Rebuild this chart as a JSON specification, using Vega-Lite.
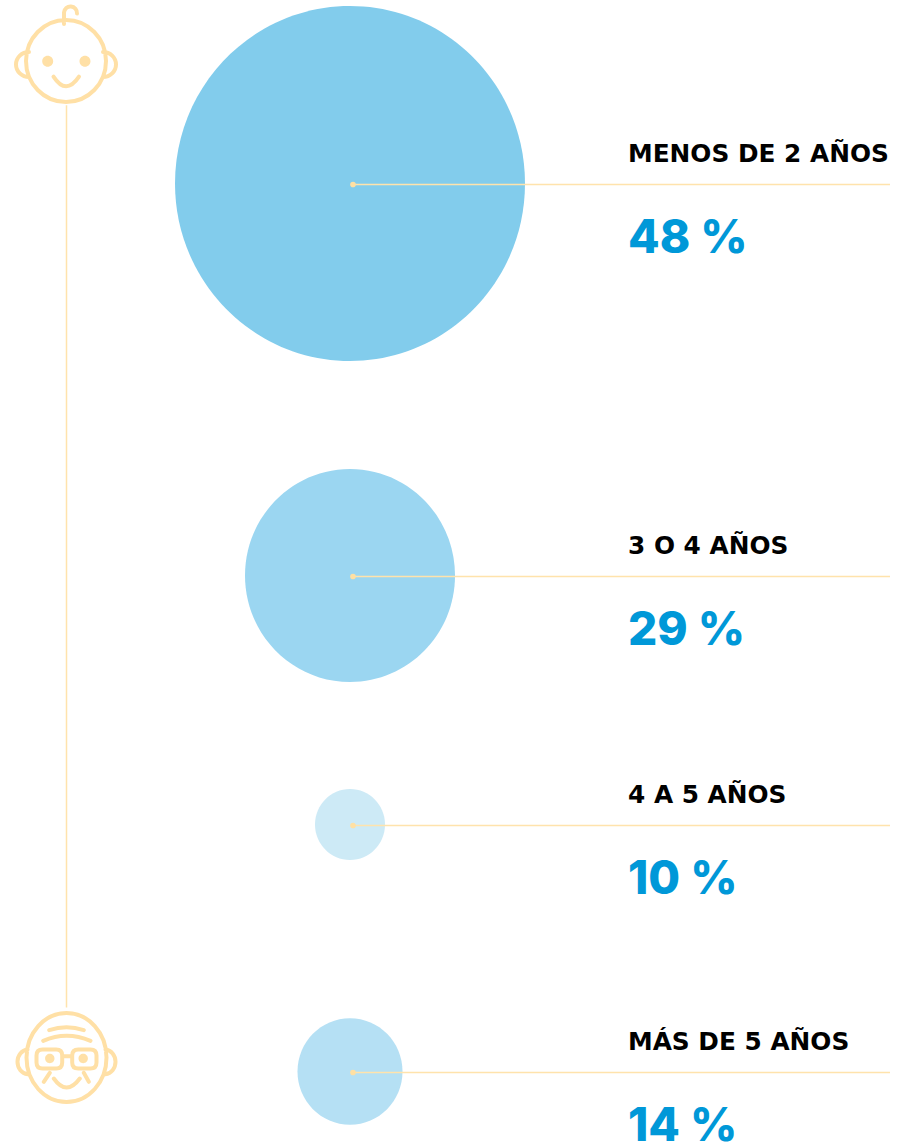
{"$schema":"https://vega.github.io/schema/vega-lite/v6.json","width":904,"height":1145,"padding":0,"autosize":{"type":"none"},"background":"white","config":{"view":{"stroke":null}},"data":{"values":[{"rango":"MENOS DE 2 AÑOS","porcentaje":48,"edad":1,"etiqueta":"48 %"},{"rango":"3 O 4 AÑOS","porcentaje":29,"edad":3.5,"etiqueta":"29 %"},{"rango":"4 A 5 AÑOS","porcentaje":10,"edad":4.5,"etiqueta":"10 %"},{"rango":"MÁS DE 5 AÑOS","porcentaje":14,"edad":6,"etiqueta":"14 %"}]},"layer":[{"mark":{"type":"point","filled":true,"opacity":1,"yOffset":-1,"shape":"M-1,0A1,1.014 0 1 1 1,0A1,1.014 0 1 1 -1,0Z"},"encoding":{"x":{"datum":350,"type":"quantitative","scale":{"domain":[0,904],"nice":false,"zero":false},"axis":null},"y":{"field":"edad","type":"quantitative","scale":{"domain":[0,1,3.5,4.5,6],"range":[61,184.5,576.5,825.5,1072.5],"nice":false,"zero":false},"axis":null},"size":{"field":"porcentaje","type":"quantitative","legend":null,"scale":{"type":"linear","domain":[10,14,29,48],"range":[4900,11025,44100,122500],"zero":false,"nice":false}},"color":{"field":"rango","type":"nominal","legend":null,"scale":{"domain":["MENOS DE 2 AÑOS","3 O 4 AÑOS","4 A 5 AÑOS","MÁS DE 5 AÑOS"],"range":["#82CCEC","#9BD6F1","#CDEAF6","#B5E0F4"]}}}},{"mark":{"type":"rule","color":"#FFE3AC","strokeWidth":1.5},"encoding":{"x":{"datum":353,"type":"quantitative"},"x2":{"datum":890},"y":{"field":"edad","type":"quantitative"}}},{"mark":{"type":"circle","color":"#FFE0A3","opacity":1,"size":32},"encoding":{"x":{"datum":353,"type":"quantitative"},"y":{"field":"edad","type":"quantitative"}}},{"mark":{"type":"text","align":"left","baseline":"middle","font":"DejaVu Sans","fontWeight":700,"fontSize":24.8,"color":"#000000","dy":-30},"encoding":{"x":{"datum":628,"type":"quantitative"},"y":{"field":"edad","type":"quantitative"},"text":{"field":"rango"}}},{"mark":{"type":"text","align":"left","baseline":"middle","font":"Inter","fontWeight":800,"fontSize":46,"color":"#0098D8","dy":54.5},"encoding":{"x":{"datum":628,"type":"quantitative"},"y":{"field":"edad","type":"quantitative"},"text":{"field":"etiqueta"}}},{"data":{"values":[{"tramo":"línea"}]},"mark":{"type":"rule","color":"#FFE3AC","strokeWidth":1.5},"encoding":{"x":{"datum":66.5,"type":"quantitative"},"y":{"datum":0.358,"type":"quantitative"},"y2":{"datum":5.605}}},{"data":{"values":[{"icono":"bebé","edad":0}]},"mark":{"type":"point","filled":false,"opacity":1,"color":"#FFE0A6","strokeWidth":4,"strokeCap":"round","size":4,"shape":"M-40,0A40,41 0 1 1 40,0A40,41 0 1 1 -40,0ZM-2,-37L-2,-48.5A6.5,6.5 0 1 1 11,-47.5M-37,-9A13,12.5 0 0 0 -37,16M37,-9A13,12.5 0 0 1 37,16M-12.5,15.7Q0,35 13,15.7"},"encoding":{"x":{"datum":66,"type":"quantitative"},"y":{"field":"edad","type":"quantitative"}}},{"data":{"values":[{"icono":"bebé","edad":0}]},"mark":{"type":"point","filled":true,"opacity":1,"color":"#FFE0A6","size":4,"shape":"M-23.8,0.3A5.5,5.5 0 1 1 -12.8,0.3A5.5,5.5 0 1 1 -23.8,0.3ZM13.5,0.3A5.5,5.5 0 1 1 24.5,0.3A5.5,5.5 0 1 1 13.5,0.3Z"},"encoding":{"x":{"datum":66,"type":"quantitative"},"y":{"field":"edad","type":"quantitative"}}},{"data":{"values":[{"icono":"mayor","edad":5.909}]},"mark":{"type":"point","filled":false,"opacity":1,"color":"#FFE0A6","strokeWidth":4,"strokeCap":"round","size":4,"shape":"M-40,0A40,44.5 0 1 1 40,0A40,44.5 0 1 1 -40,0ZM-39,-8A11,12.4 0 0 0 -39,16.7M39,-8A11,12.4 0 0 1 39,16.7M-17.3,-27.3Q0,-33 17.3,-27.3M-23.3,-16.7Q0,-27 24,-16.7M-24,-8L-10.3,-8Q-4.3,-8 -4.3,-2L-4.3,5Q-4.3,11 -10.3,11L-24,11Q-30,11 -30,5L-30,-2Q-30,-8 -24,-8ZM11.7,-8L24,-8Q30,-8 30,-2L30,5Q30,11 24,11L11.7,11Q5.7,11 5.7,5L5.7,-2Q5.7,-8 11.7,-8ZM-4.3,-1.3L5.7,-1.3M-12.7,21Q0,39 13.3,21M-16.7,15.3L-22.7,24.3M17.3,15.3L22.3,24.3"},"encoding":{"x":{"datum":66.5,"type":"quantitative"},"y":{"field":"edad","type":"quantitative"}}},{"data":{"values":[{"icono":"mayor","edad":5.909}]},"mark":{"type":"point","filled":true,"opacity":1,"color":"#FFE0A6","size":4,"shape":"M-21.4,1A4.7,4.7 0 1 1 -12,1A4.7,4.7 0 1 1 -21.4,1ZM12,1A4.7,4.7 0 1 1 21.4,1A4.7,4.7 0 1 1 12,1Z"},"encoding":{"x":{"datum":66.5,"type":"quantitative"},"y":{"field":"edad","type":"quantitative"}}}]}
